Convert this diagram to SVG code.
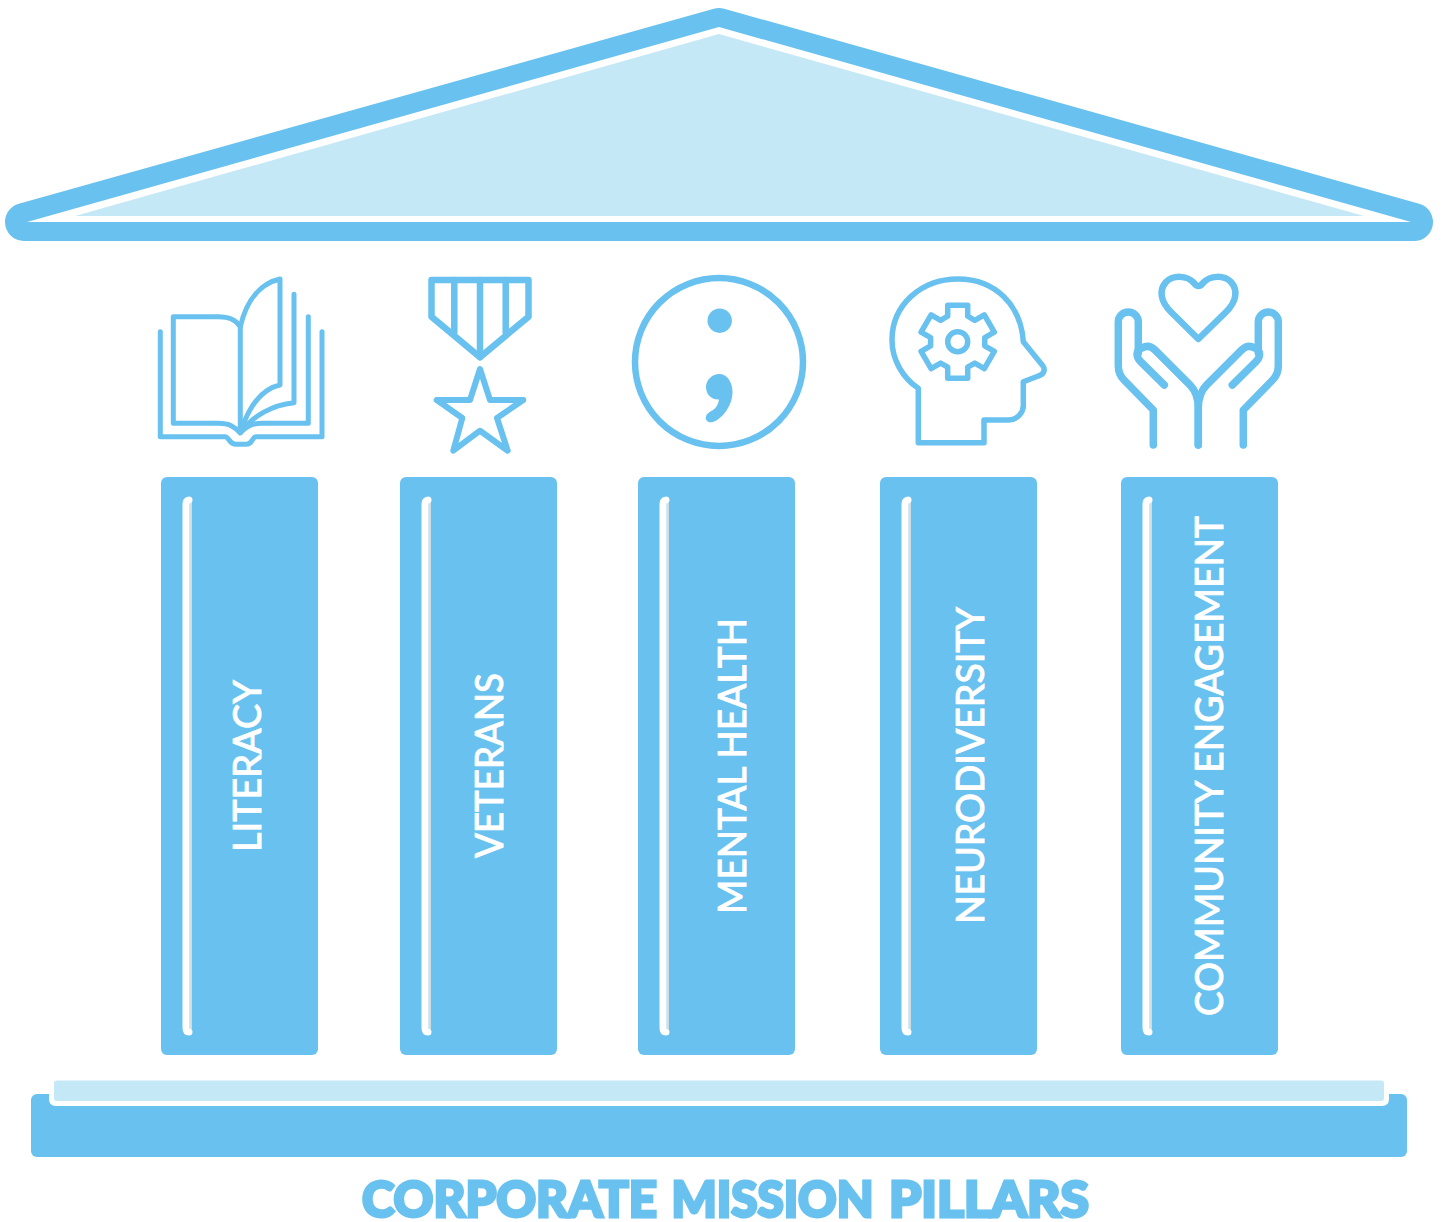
<svg xmlns="http://www.w3.org/2000/svg" xmlns:xlink="http://www.w3.org/1999/xlink" width="1442" height="1222" viewBox="0 0 1442 1222">
<style>
.b{fill:#68c1ee}
.ic{fill:none;stroke:#68c1ee;stroke-width:5.500;stroke-linecap:round;stroke-linejoin:round}
.lbl{font-family:"Lato","Open Sans",sans-serif;font-size:39px;font-weight:500;fill:#fff;stroke:#fff;stroke-width:.8}
.shine{fill:none;stroke:#fff;stroke-width:7;stroke-linecap:round}
.shade{fill:none;stroke:#d8dde0;stroke-width:2.500}
</style>
<defs>
<g id="shineMark">
<path class="shade" d="M190.700,503V1029"/>
<path class="shine" d="M189,500C187,500 186,501.500 186,504V1028C186,1030.500 187,1032 189,1032"/>
</g>
<g id="hand">
<path d="M1153.300,445 V410 L1124,380 C1120,376 1118.300,371 1118.300,366 V322 A10,10 0 0 1 1138.300,322 V353"/>
<path d="M1164.300,385 L1141,362 C1135,356 1136,350 1142,348 C1147,345 1151,346 1155,350 L1190,385 C1196,391 1198.300,398 1198.300,408 V445"/>
</g>
</defs>
<rect width="1442" height="1222" fill="#fff"/>

<g id="roof">
<path d="M24,222 L719,27 L1414,222 Z" fill="#68c1ee" stroke="#68c1ee" stroke-width="38" stroke-linejoin="round"/>
<path d="M27,222 L719,27 L1411,222 Z" fill="#fff"/>
<path d="M75,216 L719,34 L1364,216 Z" fill="#c5e8f7"/>
</g>

<g id="icon-book" class="ic" style="stroke-width:5">
<path d="M160.300,331.700 V436.700 H225 C229,436.700 229,444.300 236,444.300 H246 C253,444.300 252,436.700 256,436.700 H322 V331.700"/>
<path d="M240.300,433 C235,427 230,423.300 218,423.300 H173.300 V316.700 H218 C230,316.700 236,320 240.300,326.700 Z"/>
<path d="M240.300,326.700 C247,298 262,283 280,279 V385 C262,389 250,405 242,428"/>
<path d="M294,294.300 V402.700 C272,405 253,416 242,431"/>
<path d="M308.300,316.700 V423.300 H262 C252,423.300 247,426 241,432"/>
</g>

<g id="icon-medal" class="ic">
<path d="M431.500,280 H528.500 V316.700 L480,357.300 L431.500,316.700 Z" stroke-width="6.500"/>
<path d="M454.300,280 V332 M480,280 V357 M505.700,280 V332" stroke-width="6.500"/>
<path d="M480,369 L490,400 H523.300 L497,418 L507.700,450.700 L480,430.700 L453.300,450.700 L462.300,418 L436.700,400 H470 Z" stroke-width="6"/>
</g>

<g id="icon-semicolon">
<circle cx="719" cy="362" r="84" fill="none" stroke="#68c1ee" stroke-width="6.500"/>
<circle cx="719.700" cy="320.700" r="12.200" class="b"/>
<path class="b" d="M719.500,374 C727,374 732.500,382 732.500,392 C732.500,406 722,419 713,422 C708,423.500 705,420 706,416.500 C707,413 710,412 713,410 C716,408 718.500,404 719,399.500 C711,400 706,394 706,387 C706,380 712,374 719.500,374 Z"/>
</g>

<g id="icon-head" class="ic">
<path d="M918.300,388.300 V442.700 H984 V420 H1008.300 A15,15 0 0 0 1023.300,403.300 V381.700 L1038.300,376 C1045,374 1045,369 1043,366 L1023.300,341.700 C1021,305 995,279 958,279 C921,279 892,305 892,340 C892,360 903,378 918.300,388.300 Z"/>
<path d="M947.700,316.200 V305.200 H967.700 V316.200 L974.780,320.290 L984.310,314.790 L994.310,332.110 L984.780,337.610 V345.790 L994.310,351.290 L984.310,368.610 L974.780,363.110 L967.700,367.200 V378.200 H947.700 V367.200 L940.620,363.110 L931.090,368.610 L921.090,351.290 L930.620,345.790 V337.610 L921.090,332.110 L931.090,314.790 L940.620,320.290 Z"/>
<circle cx="957.700" cy="341.700" r="10"/>
</g>

<g id="icon-hands" class="ic" style="stroke-width:7.500">
<path d="M1198.300,339 L1171,312 C1160,301 1159,290 1166,282 C1173,275 1187,275 1194,283 C1197,287 1200,287 1203,283 C1210,275 1224,275 1231,282 C1238,290 1237,301 1226,312 Z" stroke-width="6.500"/>
<use xlink:href="#hand" href="#hand"/>
<use xlink:href="#hand" href="#hand" transform="translate(2396.600,0) scale(-1,1)"/>
</g>

<g id="pillar-literacy">
<rect class="b" x="161" y="477" width="157" height="578" rx="6"/>
<use href="#shineMark" xlink:href="#shineMark"/>
<text class="lbl" transform="translate(260.500,852) rotate(-90)" textLength="172" lengthAdjust="spacingAndGlyphs">LITERACY</text>
</g>
<g id="pillar-veterans">
<rect class="b" x="400" y="477" width="157" height="578" rx="6"/>
<use href="#shineMark" xlink:href="#shineMark" x="239"/>
<text class="lbl" transform="translate(502.500,858) rotate(-90)" textLength="185" lengthAdjust="spacingAndGlyphs">VETERANS</text>
</g>
<g id="pillar-mental-health">
<rect class="b" x="638" y="477" width="157" height="578" rx="6"/>
<use href="#shineMark" xlink:href="#shineMark" x="477"/>
<text class="lbl" transform="translate(745.500,914) rotate(-90)" textLength="296" lengthAdjust="spacingAndGlyphs">MENTAL HEALTH</text>
</g>
<g id="pillar-neurodiversity">
<rect class="b" x="880" y="477" width="157" height="578" rx="6"/>
<use href="#shineMark" xlink:href="#shineMark" x="719"/>
<text class="lbl" transform="translate(983.500,924) rotate(-90)" textLength="317" lengthAdjust="spacingAndGlyphs">NEURODIVERSITY</text>
</g>
<g id="pillar-community">
<rect class="b" x="1121" y="477" width="157" height="578" rx="6"/>
<use href="#shineMark" xlink:href="#shineMark" x="960"/>
<text class="lbl" transform="translate(1222.500,1016) rotate(-90)" textLength="500" lengthAdjust="spacingAndGlyphs">COMMUNITY ENGAGEMENT</text>
</g>

<g id="base">
<rect class="b" x="31" y="1094" width="1376" height="63" rx="6"/>
<path d="M49,1090 V1099 Q49,1106 56,1106 H1382 Q1389,1106 1389,1099 V1090 Z" fill="#fff"/>
<rect x="54" y="1080.500" width="1330" height="20.500" rx="3" fill="#c5e8f7"/>
</g>

<text id="title" y="1216.500" font-family="Lato, sans-serif" font-size="50" font-weight="900" fill="#68c1ee" stroke="#68c1ee" stroke-width="3"><tspan x="362" textLength="295" lengthAdjust="spacingAndGlyphs">CORPORATE</tspan> <tspan x="671.500" textLength="202" lengthAdjust="spacingAndGlyphs">MISSION</tspan> <tspan x="889" textLength="200" lengthAdjust="spacingAndGlyphs">PILLARS</tspan></text>
</svg>
